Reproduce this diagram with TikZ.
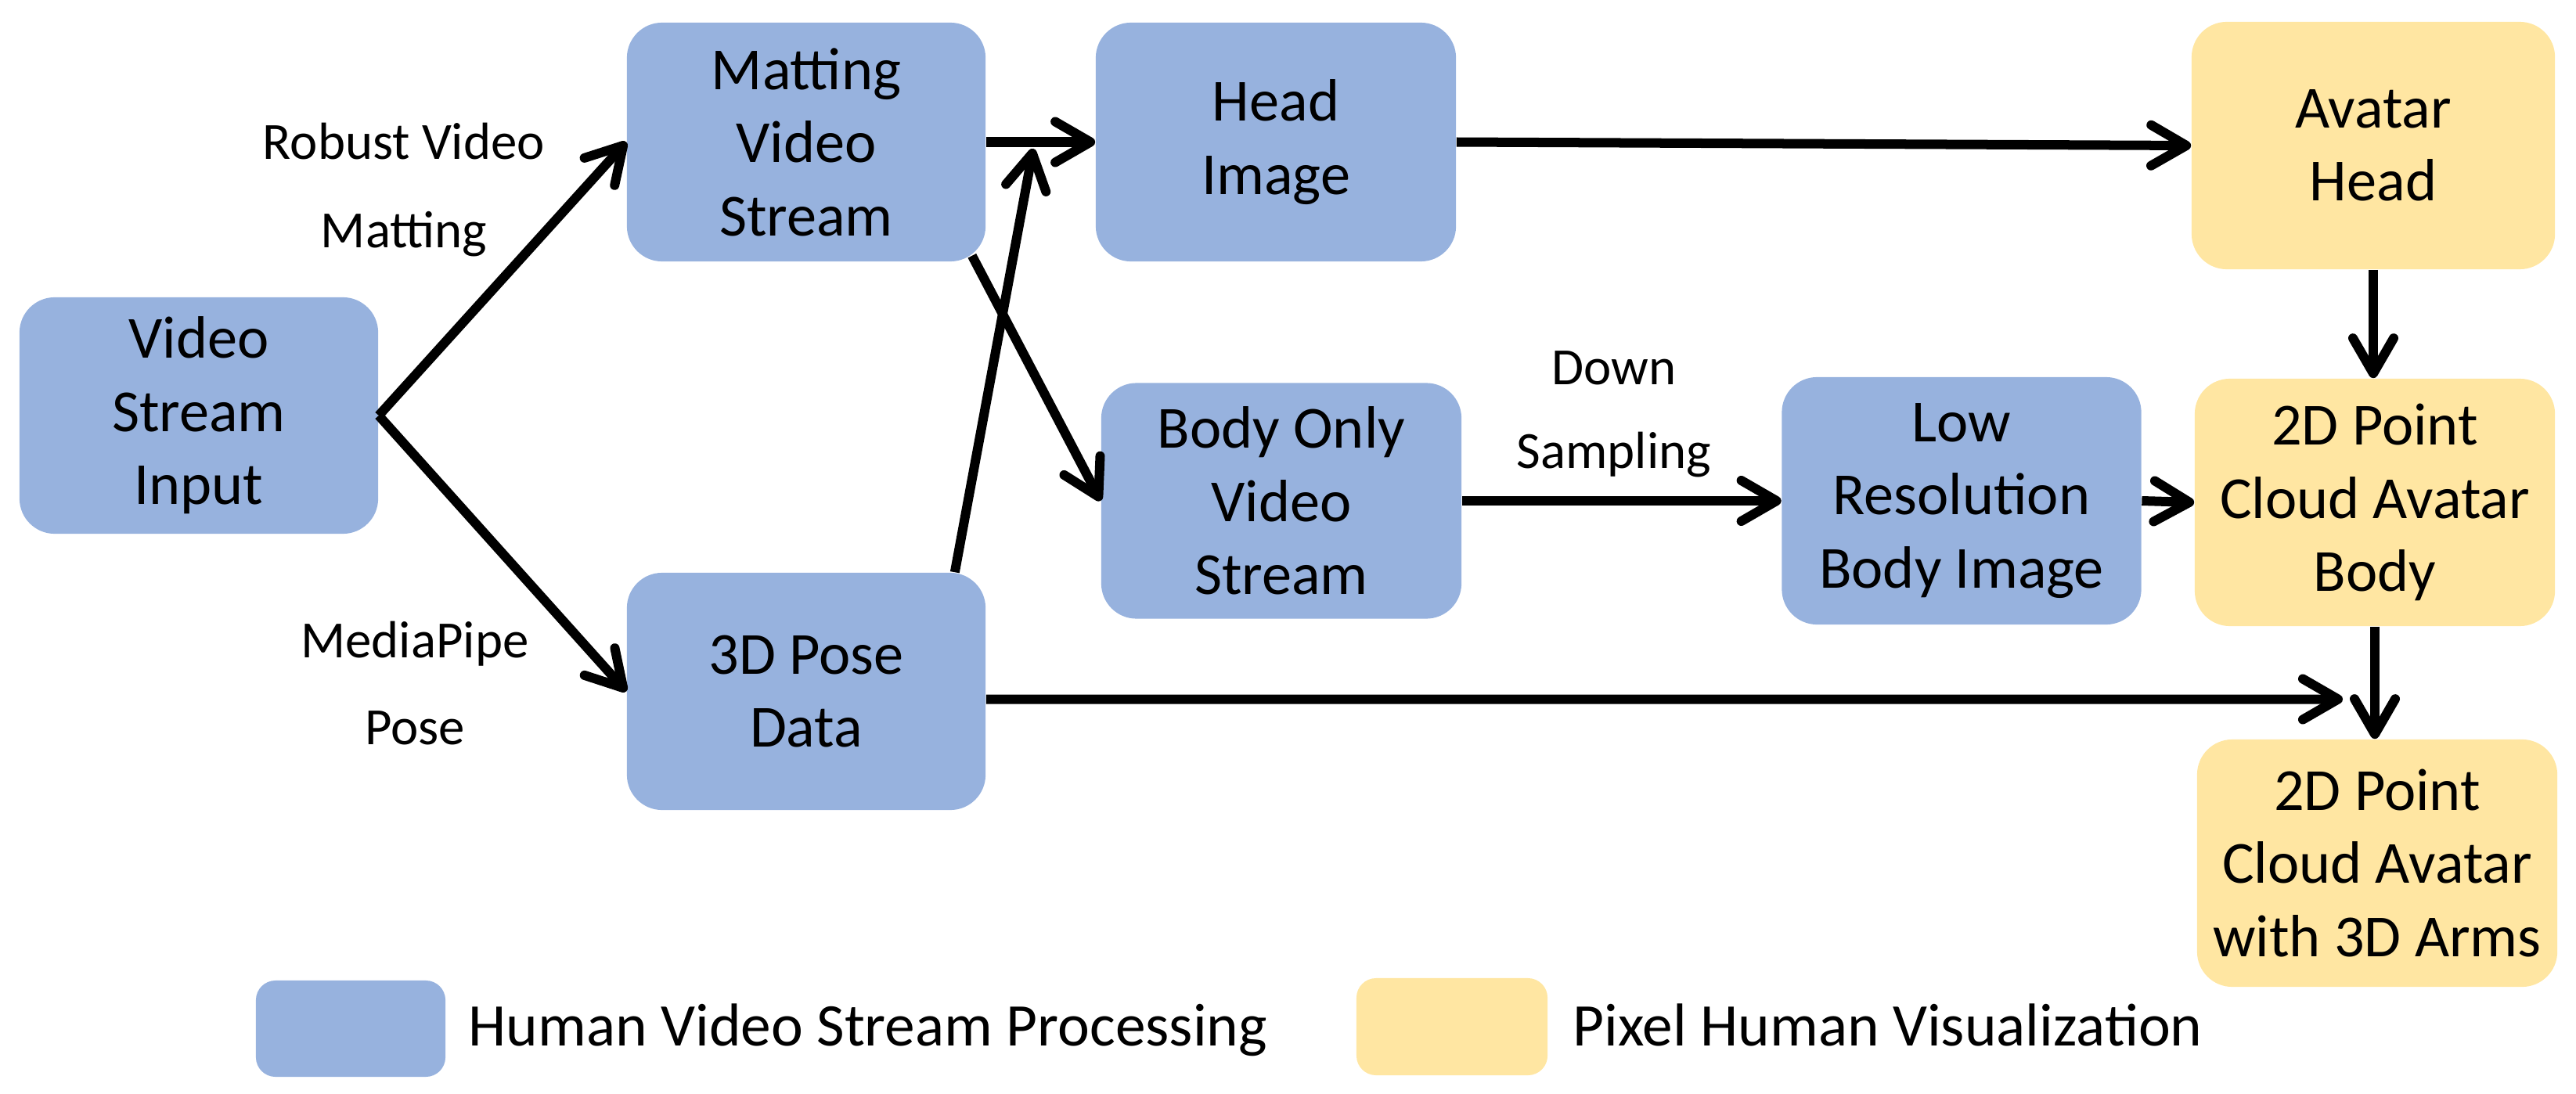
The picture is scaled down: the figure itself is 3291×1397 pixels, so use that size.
\documentclass[tikz,border=0pt]{standalone}
\usepackage{fontspec}
\setmainfont{Carlito}
\usetikzlibrary{arrows.meta}
\definecolor{procblue}{HTML}{97B2DE}
\definecolor{visyellow}{HTML}{FFE6A2}
\begin{document}
\begin{tikzpicture}[x=0.01cm,y=-0.01cm,
  box/.style={rounded corners=0.45cm, inner sep=0pt, align=center,
    font=\fontsize{21.7}{26.6}\selectfont},
  proc/.style={box, fill=procblue},
  vis/.style={box, fill=visyellow},
  conn/.style={line width=0.12cm, -{Straight Barb[length=0.45cm,width=0.52cm,round]}},
  lbl/.style={font=\fontsize{19}{23}\selectfont, anchor=base, inner sep=0pt},
  legtxt/.style={font=\fontsize{22}{26}\selectfont, anchor=base west, inner sep=0pt}]
\useasboundingbox (0,0) rectangle (3291,1397);

% nodes
\node[proc, minimum width=4.58cm, minimum height=3.02cm] (vsi) at (254,531) {Video\\Stream\\Input};
\node[proc, minimum width=4.58cm, minimum height=3.05cm] (mvs) at (1030,181.5) {Matting\\Video\\Stream};
\node[proc, minimum width=4.58cm, minimum height=3.03cm] (pose) at (1030,883.5) {3D Pose\\Data};
\node[proc, minimum width=4.60cm, minimum height=3.05cm] (head) at (1630,181.5) {Head\\Image};
\node[proc, minimum width=4.60cm, minimum height=3.01cm] (body) at (1637,640) {Body Only\\Video\\Stream};
\node[proc, minimum width=4.59cm, minimum height=3.16cm] (lowres) at (2506,640) {Low\\Resolution\\Body Image};
\node[vis, minimum width=4.64cm, minimum height=3.16cm] (ahead) at (3032,186) {Avatar\\Head};
\node[vis, minimum width=4.60cm, minimum height=3.16cm] (pcbody) at (3034,642) {2D Point\\Cloud Avatar\\Body};
\node[vis, minimum width=4.60cm, minimum height=3.16cm] (arms) at (3037,1103) {2D Point\\Cloud Avatar\\with 3D Arms};

% edge labels
\node[lbl] (rvm1) at (516,203) {Robust Video};
\node[lbl] (rvm2) at (516,316) {Matting};
\node[lbl] (mp1) at (530,840) {MediaPipe};
\node[lbl] (mp2) at (530,951) {Pose};
\node[lbl] (ds1) at (2062,491) {Down};
\node[lbl] (ds2) at (2062,598) {Sampling};

% free ends
\coordinate (poseTip) at (1320,190);
\coordinate (poseEnd) at (2993,893.5);

% connectors
\draw[conn] (vsi.east) -- (mvs.west);
\draw[conn] (vsi.east) -- (pose.west);
\draw[conn] (mvs.east) -- (head.west);
\draw[conn] ([xshift=-0.4cm]pose.north east) -- (poseTip);
\draw[conn] ([xshift=-0.18cm,yshift=0.08cm]mvs.south east) -- (body.west);
\draw[conn] (head.east) -- (ahead.west);
\draw[conn] (ahead.south) -- (ahead.south |- pcbody.north);
\draw[conn] (body.east) -- (lowres.west);
\draw[conn] (lowres.east) -- (pcbody.west);
\draw[conn] ([yshift=-0.1cm]pose.east) -- (poseEnd);
\draw[conn] (pcbody.south) -- (pcbody.south |- arms.north);

% legend
\node[proc, rounded corners=0.25cm, minimum width=2.42cm, minimum height=1.23cm] (legP) at (448,1314.5) {};
\node[legtxt] (legPt) at (598,1336) {Human Video Stream Processing};
\node[vis, rounded corners=0.25cm, minimum width=2.44cm, minimum height=1.24cm] (legV) at (1855,1312) {};
\node[legtxt] (legVt) at (2009,1336) {Pixel Human Visualization};
\end{tikzpicture}
\end{document}
